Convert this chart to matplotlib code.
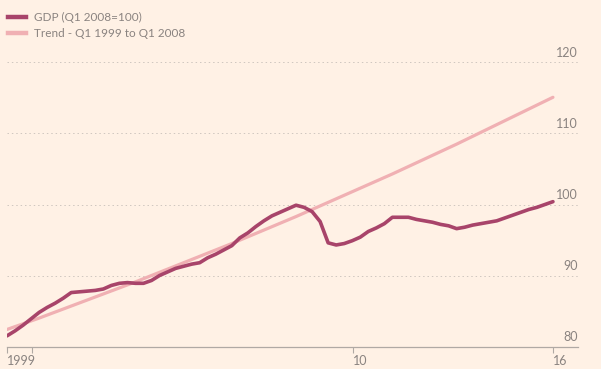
import numpy as np
import matplotlib.pyplot as plt
from matplotlib.lines import Line2D
from matplotlib.transforms import blended_transform_factory

# Datos trimestrales: Q1 1999 a Q1 2016
gdp = [81.5, 82.2, 83.0, 83.9, 84.8, 85.5, 86.1, 86.8, 87.6, 87.7,
       87.8, 87.9, 88.1, 88.6, 88.9, 89.0, 88.9, 88.9, 89.3, 90.0,
       90.5, 91.0, 91.3, 91.6, 91.8, 92.5, 93.0, 93.6, 94.2, 95.3,
       96.0, 96.9, 97.7, 98.4, 98.9, 99.4, 99.9, 99.6, 99.0, 97.6,
       94.6, 94.3, 94.5, 94.9, 95.4, 96.2, 96.7, 97.3, 98.2, 98.2,
       98.2, 97.9, 97.7, 97.5, 97.2, 97.0, 96.6, 96.8, 97.1, 97.3,
       97.5, 97.7, 98.1, 98.5, 98.9, 99.3, 99.6, 100.0, 100.4]
gdp_years = 1999 + np.arange(len(gdp)) / 4

# Tendencia (Q1 de cada año)
trend_years = list(range(1999, 2017))
trend = [82.4, 84.0, 85.7, 87.4, 89.1, 90.9, 92.7, 94.5, 96.4, 98.3,
         100.3, 102.3, 104.3, 106.4, 108.5, 110.7, 112.9, 115.1]

yticks = [80, 90, 100, 110, 120]
xticks = [1999, 1999.78, 2009.78, 2016]
xlabels = ['1999', '', '10', '16']

bg = '#fff1e5'
c_gdp = '#a8446a'
c_trend = '#f0b0b3'
c_text = '#8a8380'

plt.rcParams['font.family'] = ['Lato', 'DejaVu Sans']

fig = plt.figure(figsize=(6.01, 3.69), dpi=100, facecolor=bg)
ax = fig.add_axes([7 / 601, 22.5 / 369, 571 / 601, 319.5 / 369])
ax.set_facecolor(bg)

ax.plot(trend_years, trend, color=c_trend, lw=2.3, solid_capstyle='round', zorder=3)
ax.plot(gdp_years, gdp, color=c_gdp, lw=2.6, solid_capstyle='round', zorder=4)

ax.set_xlim(1999, 2016.78)
ax.set_ylim(80, 125)

for s in ['top', 'right', 'left']:
    ax.spines[s].set_visible(False)
ax.spines['bottom'].set_color('#b0a9a4')
ax.spines['bottom'].set_linewidth(0.9)

ax.set_yticks(yticks)
ax.tick_params(axis='y', length=0, labelleft=False)
for y in yticks[1:]:
    ax.axhline(y, color='#cfc6bf', lw=0.7, ls=(0, (1.5, 3)), zorder=1)

tr = blended_transform_factory(ax.transAxes, ax.transData)
for y in yticks:
    ax.text(0.999, y + 0.45, str(y), transform=tr, ha='right', va='bottom',
            fontsize=9, color=c_text)

ax.set_xticks(xticks)
ax.set_xticklabels(xlabels, ha='left', fontsize=9, color=c_text)
ax.tick_params(axis='x', length=4, width=0.8, color='#b0a9a4', pad=2)

handles = [Line2D([], [], color=c_gdp, lw=3.2),
           Line2D([], [], color=c_trend, lw=3.2)]
leg = fig.legend(handles, ['GDP (Q1 2008=100)', 'Trend - Q1 1999 to Q1 2008'],
                 loc='upper left', bbox_to_anchor=(0.0, 0.99), frameon=False,
                 fontsize=8.5, handlelength=1.5, handletextpad=0.7,
                 labelspacing=0.45, borderaxespad=0.3)
for t in leg.get_texts():
    t.set_color(c_text)

fig.savefig('out.png', dpi=100, facecolor=bg)
